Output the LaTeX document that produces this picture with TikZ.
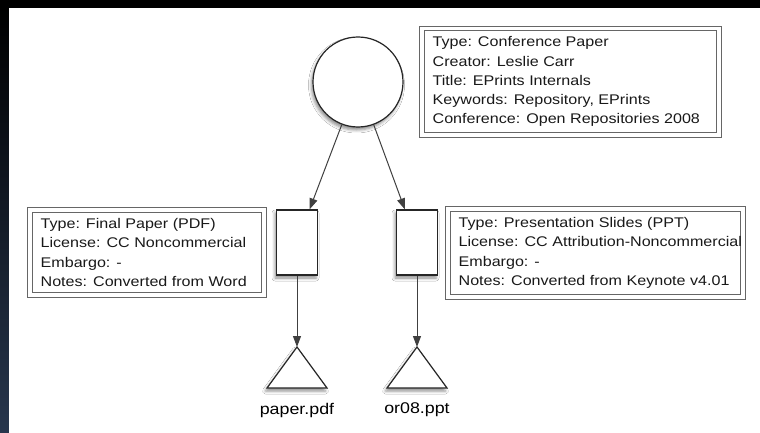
\documentclass[tikz,border=0pt]{standalone}
\usepackage{fontspec}
\setmainfont{Liberation Sans}[FakeStretch=1.15]
\usetikzlibrary{arrows.meta,shadows.blur}
\definecolor{edgeblue}{RGB}{39,54,77}
\begin{document}
\begin{tikzpicture}[x=1pt,y=-1pt,
  shapeline/.style={draw=black!85, line width=1.2pt, fill=white},
  softshadow/.style={blur shadow={shadow xshift=-1.5pt, shadow yshift=-3pt,
      shadow blur radius=3pt, shadow opacity=45}},
  metabox/.style={draw=black!60, double=white, line width=1.1pt,
      double distance=3.6pt, inner sep=0pt, fill=white},
  metatext/.style={align=left, anchor=west, inner sep=0pt, text=black!90,
      font=\fontsize{14}{19.3}\selectfont},
  filename/.style={font=\fontsize{15.5}{18}\selectfont, inner sep=0pt},
  link/.style={draw=black!75, line width=1pt, -{Triangle[length=11pt,width=8pt]}},
  ]
\useasboundingbox (0,0) rectangle (760,433);
% screen backdrop
\fill[black] (0,0) rectangle (760,433);
\shade[top color=black, bottom color=edgeblue] (0,8) rectangle (9,433);
\fill[white] (9,8) rectangle (760,433);

% the eprint and its two documents
\node[circle, shapeline, softshadow, minimum size=90pt, inner sep=0pt] (item) at (358,82) {};
\node[rectangle, shapeline, softshadow, minimum width=41pt, minimum height=65pt, inner sep=0pt] (docA) at (297,242.5) {};
\node[rectangle, shapeline, softshadow, minimum width=41pt, minimum height=65pt, inner sep=0pt] (docB) at (417,242.5) {};

% files
\draw[shapeline, softshadow] (267,388) -- (297,347) -- (327,388) -- cycle;
\draw[shapeline, softshadow] (387,388) -- (417,347) -- (447,388) -- cycle;
\coordinate (fileA) at (297,347);
\coordinate (fileB) at (417,347);
\node[filename] (fileAname) at (297,410) {paper.pdf};
\node[filename] (fileBname) at (417,410) {or08.ppt};

% metadata boxes
\node[metabox, minimum width=297pt, minimum height=106.5pt] (itemMeta) at (570.5,81.75) {};
\node[metatext] (itemMetaText) at ([xshift=11pt]itemMeta.west)
  {Type: Conference Paper\\Creator: Leslie Carr\\Title: EPrints Internals\\Keywords: Repository, EPrints\\Conference: Open Repositories 2008};
\node[metabox, minimum width=234pt, minimum height=85pt] (docAMeta) at (147,252.5) {};
\node[metatext] (docAMetaText) at ([xshift=11pt]docAMeta.west)
  {Type: Final Paper (PDF)\\License: CC Noncommercial\\Embargo: -\\Notes: Converted from Word};
\node[metabox, minimum width=295pt, minimum height=88pt] (docBMeta) at (595.5,253) {};
\node[metatext] (docBMetaText) at ([xshift=11pt]docBMeta.west)
  {Type: Presentation Slides (PPT)\\License: CC Attribution-Noncommercial\\Embargo: -\\Notes: Converted from Keynote v4.01};

% connectors
\draw[link] (item) -- (docA);
\draw[link] (item) -- (docB);
\draw[link] (docA) -- (fileA);
\draw[link] (docB) -- (fileB);
\end{tikzpicture}
\end{document}
